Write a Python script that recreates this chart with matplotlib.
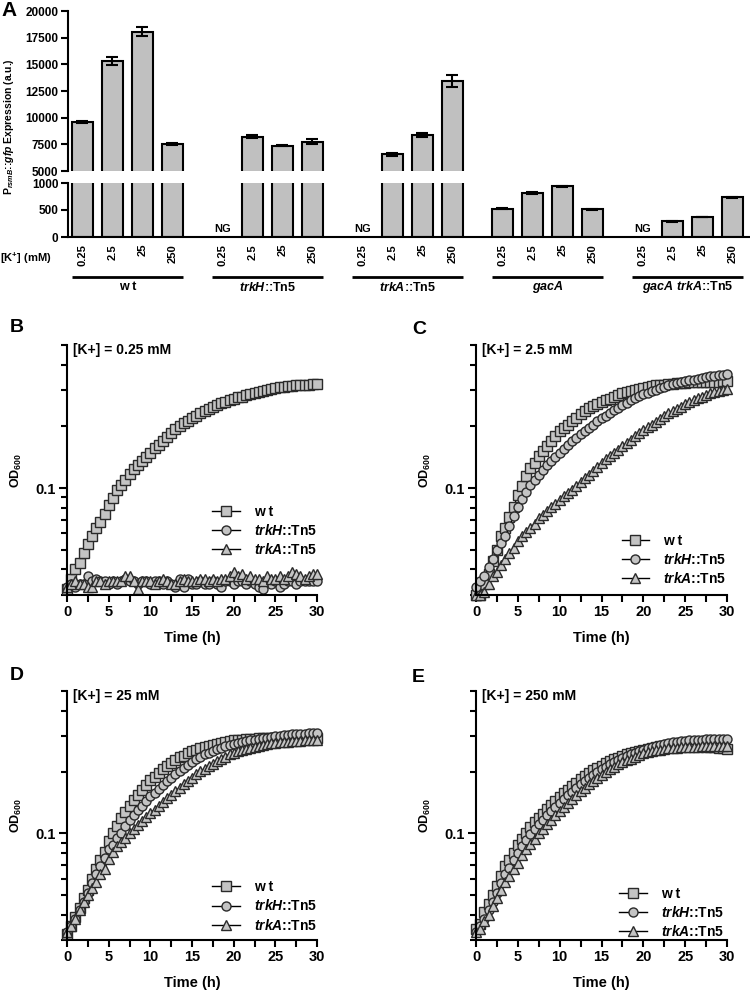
import numpy as np
import matplotlib
matplotlib.use("Agg")
import matplotlib.pyplot as plt
from matplotlib.ticker import NullFormatter
import matplotlib.transforms as mtransforms

plt.rcParams['font.family'] = ['Liberation Sans', 'DejaVu Sans']
plt.rcParams['font.weight'] = 'bold'
plt.rcParams['axes.labelweight'] = 'bold'
plt.rcParams['mathtext.fontset'] = 'custom'
plt.rcParams['mathtext.rm'] = 'Liberation Sans:bold'
plt.rcParams['mathtext.it'] = 'Liberation Sans:italic:bold'
plt.rcParams['mathtext.bf'] = 'Liberation Sans:bold'
plt.rcParams['axes.linewidth'] = 1.5

# ===== Panel A data =====
strains = ["w t", r"$trkH$::Tn5", r"$trkA$::Tn5", r"$gacA$", r"$gacA$ $trkA$::Tn5"]
k_labels = ["0.25", "2.5", "25", "250"]
expr = [
    [9560, 15300, 18050, 7530],
    [np.nan, 8220, 7380, 7750],
    [np.nan, 6570, 8370, 13470],
    [525, 815, 940, 515],
    [np.nan, 290, 370, 733],
]
expr_err = [
    [100, 400, 420, 120],
    [0, 150, 80, 250],
    [0, 120, 180, 550],
    [5, 15, 8, 8],
    [0, 5, 5, 15],
]

# ===== Growth curves (OD600), every 0.5 h =====
t = np.arange(0, 30.5, 0.5)

wt_B = [0.032, 0.036, 0.040, 0.043, 0.048, 0.053, 0.058, 0.064, 0.068, 0.075,
        0.083, 0.089, 0.098, 0.104, 0.110, 0.117, 0.124, 0.130, 0.136, 0.142,
        0.148, 0.157, 0.162, 0.170, 0.178, 0.186, 0.194, 0.200, 0.208, 0.213,
        0.220, 0.226, 0.233, 0.238, 0.244, 0.250, 0.255, 0.260, 0.264, 0.269,
        0.273, 0.277, 0.280, 0.285, 0.289, 0.292, 0.295, 0.299, 0.302, 0.306,
        0.309, 0.310, 0.312, 0.314, 0.316, 0.318, 0.320, 0.320, 0.320, 0.321,
        0.321]
trkH_B = [0.033, 0.034, 0.033, 0.034, 0.034, 0.037, 0.035, 0.036, 0.035, 0.035,
          0.034, 0.035, 0.034, 0.035, 0.036, 0.035, 0.035, 0.034, 0.035, 0.035,
          0.034, 0.035, 0.035, 0.034, 0.035, 0.034, 0.033, 0.036, 0.033, 0.036,
          0.034, 0.034, 0.035, 0.034, 0.034, 0.035, 0.034, 0.033, 0.035, 0.035,
          0.034, 0.035, 0.035, 0.034, 0.035, 0.034, 0.033, 0.032, 0.035, 0.034,
          0.035, 0.033, 0.034, 0.035, 0.035, 0.034, 0.035, 0.035, 0.035, 0.035,
          0.035]
trkA_B = [0.033, 0.034, 0.035, 0.034, 0.034, 0.033, 0.033, 0.035, 0.035, 0.034,
          0.035, 0.035, 0.035, 0.035, 0.037, 0.037, 0.035, 0.032, 0.035, 0.035,
          0.035, 0.034, 0.035, 0.036, 0.035, 0.034, 0.034, 0.035, 0.036, 0.035,
          0.035, 0.035, 0.036, 0.036, 0.035, 0.036, 0.035, 0.036, 0.036, 0.037,
          0.039, 0.037, 0.038, 0.036, 0.037, 0.036, 0.036, 0.035, 0.037, 0.036,
          0.036, 0.037, 0.036, 0.037, 0.039, 0.038, 0.037, 0.036, 0.037, 0.038,
          0.038]

wt_C = [0.030, 0.030, 0.034, 0.038, 0.044, 0.050, 0.058, 0.064, 0.072, 0.081,
        0.092, 0.102, 0.115, 0.125, 0.133, 0.143, 0.151, 0.160, 0.169, 0.179,
        0.190, 0.197, 0.204, 0.212, 0.220, 0.229, 0.238, 0.245, 0.251, 0.257,
        0.263, 0.268, 0.273, 0.279, 0.284, 0.290, 0.295, 0.299, 0.303, 0.306,
        0.309, 0.312, 0.315, 0.317, 0.318, 0.320, 0.321, 0.323, 0.325, 0.326,
        0.327, 0.328, 0.330, 0.330, 0.331, 0.331, 0.331, 0.331, 0.331, 0.332,
        0.333]
trkH_C = [0.033, 0.035, 0.037, 0.041, 0.045, 0.050, 0.054, 0.058, 0.065, 0.073,
          0.081, 0.088, 0.096, 0.104, 0.110, 0.116, 0.123, 0.129, 0.135, 0.141,
          0.148, 0.156, 0.163, 0.169, 0.176, 0.183, 0.190, 0.197, 0.204, 0.212,
          0.220, 0.226, 0.233, 0.240, 0.247, 0.254, 0.261, 0.268, 0.276, 0.281,
          0.287, 0.292, 0.298, 0.303, 0.309, 0.313, 0.318, 0.322, 0.327, 0.330,
          0.333, 0.336, 0.339, 0.342, 0.346, 0.349, 0.353, 0.354, 0.355, 0.357,
          0.360]
trkA_C = [0.030, 0.030, 0.031, 0.034, 0.037, 0.039, 0.042, 0.045, 0.048, 0.051,
          0.055, 0.058, 0.061, 0.064, 0.067, 0.071, 0.074, 0.077, 0.081, 0.084,
          0.087, 0.091, 0.095, 0.098, 0.102, 0.107, 0.112, 0.116, 0.121, 0.127,
          0.133, 0.138, 0.143, 0.148, 0.154, 0.160, 0.166, 0.172, 0.179, 0.185,
          0.192, 0.198, 0.204, 0.211, 0.218, 0.225, 0.232, 0.238, 0.244, 0.250,
          0.256, 0.262, 0.269, 0.274, 0.279, 0.284, 0.290, 0.294, 0.298, 0.302,
          0.306]

wt_D = [0.032, 0.035, 0.039, 0.043, 0.048, 0.053, 0.060, 0.067, 0.074, 0.081,
        0.092, 0.100, 0.109, 0.119, 0.128, 0.137, 0.146, 0.154, 0.164, 0.173,
        0.183, 0.190, 0.198, 0.206, 0.214, 0.222, 0.230, 0.236, 0.241, 0.247,
        0.253, 0.258, 0.262, 0.266, 0.270, 0.273, 0.276, 0.279, 0.281, 0.284,
        0.286, 0.288, 0.289, 0.290, 0.291, 0.292, 0.293, 0.294, 0.294, 0.294,
        0.294, 0.294, 0.294, 0.294, 0.294, 0.294, 0.294, 0.294, 0.294, 0.294,
        0.294]
trkH_D = [0.033, 0.035, 0.038, 0.042, 0.046, 0.051, 0.057, 0.063, 0.069, 0.076,
          0.084, 0.088, 0.095, 0.101, 0.109, 0.116, 0.123, 0.130, 0.137, 0.144,
          0.152, 0.158, 0.165, 0.173, 0.180, 0.188, 0.195, 0.203, 0.210, 0.217,
          0.224, 0.231, 0.238, 0.244, 0.249, 0.255, 0.260, 0.264, 0.268, 0.272,
          0.276, 0.279, 0.281, 0.284, 0.287, 0.289, 0.291, 0.293, 0.295, 0.298,
          0.300, 0.302, 0.303, 0.305, 0.306, 0.307, 0.308, 0.309, 0.310, 0.310,
          0.311]
trkA_D = [0.033, 0.035, 0.038, 0.042, 0.046, 0.050, 0.054, 0.058, 0.063, 0.067,
          0.075, 0.081, 0.087, 0.091, 0.095, 0.100, 0.105, 0.110, 0.115, 0.120,
          0.126, 0.131, 0.137, 0.143, 0.149, 0.155, 0.161, 0.168, 0.175, 0.181,
          0.187, 0.195, 0.202, 0.208, 0.214, 0.220, 0.226, 0.232, 0.238, 0.244,
          0.249, 0.253, 0.256, 0.260, 0.263, 0.267, 0.270, 0.273, 0.275, 0.277,
          0.278, 0.280, 0.281, 0.282, 0.283, 0.284, 0.285, 0.286, 0.287, 0.288,
          0.289]

wt_E = [0.034, 0.036, 0.041, 0.045, 0.050, 0.055, 0.062, 0.069, 0.074, 0.080,
        0.088, 0.094, 0.101, 0.107, 0.114, 0.119, 0.125, 0.132, 0.138, 0.145,
        0.151, 0.158, 0.164, 0.171, 0.177, 0.184, 0.191, 0.197, 0.204, 0.210,
        0.215, 0.221, 0.226, 0.231, 0.235, 0.240, 0.244, 0.248, 0.251, 0.255,
        0.258, 0.261, 0.263, 0.266, 0.268, 0.270, 0.271, 0.272, 0.273, 0.273,
        0.273, 0.272, 0.271, 0.270, 0.268, 0.267, 0.266, 0.265, 0.264, 0.262,
        0.260]
trkH_E = [0.033, 0.035, 0.038, 0.042, 0.046, 0.051, 0.057, 0.063, 0.068, 0.074,
          0.080, 0.087, 0.093, 0.099, 0.105, 0.111, 0.117, 0.123, 0.129, 0.135,
          0.141, 0.148, 0.154, 0.160, 0.167, 0.174, 0.181, 0.187, 0.193, 0.200,
          0.206, 0.212, 0.218, 0.224, 0.229, 0.234, 0.239, 0.244, 0.249, 0.254,
          0.258, 0.262, 0.266, 0.270, 0.273, 0.276, 0.278, 0.280, 0.282, 0.284,
          0.285, 0.286, 0.287, 0.288, 0.289, 0.290, 0.290, 0.291, 0.291, 0.291,
          0.292]
trkA_E = [0.033, 0.034, 0.037, 0.040, 0.044, 0.048, 0.053, 0.058, 0.062, 0.067,
          0.072, 0.078, 0.084, 0.089, 0.094, 0.100, 0.105, 0.111, 0.117, 0.123,
          0.129, 0.135, 0.141, 0.148, 0.154, 0.161, 0.167, 0.174, 0.181, 0.187,
          0.193, 0.200, 0.206, 0.212, 0.218, 0.223, 0.228, 0.233, 0.238, 0.243,
          0.247, 0.250, 0.253, 0.256, 0.258, 0.260, 0.262, 0.263, 0.264, 0.265,
          0.265, 0.266, 0.266, 0.267, 0.268, 0.268, 0.268, 0.268, 0.268, 0.268,
          0.268]
time_ticks = [0, 5, 10, 15, 20, 25, 30]

W, H = 750, 991
fig = plt.figure(figsize=(W / 100, H / 100), dpi=100)
fig.patch.set_facecolor('white')


def px_rect(x0, y0, x1, y1):
    return [x0 / W, 1 - y1 / H, (x1 - x0) / W, (y1 - y0) / H]


BAR_GREY = '#c0c0c0'

# ===== Panel A: broken-axis bars =====
ax_hi = fig.add_axes(px_rect(68, 11, 750, 171))
ax_lo = fig.add_axes(px_rect(68, 183, 750, 237))
group_step = 4 + 2 / 3
xmin, xmax = -0.483, 22.25

all_pos = []
for g in range(len(strains)):
    pos = g * group_step + np.arange(4)
    all_pos.extend(pos)
    vals = np.array(expr[g], dtype=float)
    errs = np.array(expr_err[g], dtype=float)
    ok = ~np.isnan(vals)
    for ax in (ax_hi, ax_lo):
        ax.bar(pos[ok], vals[ok], width=0.7, color=BAR_GREY, edgecolor='black', linewidth=1.5)
        ax.errorbar(pos[ok], vals[ok], yerr=errs[ok], fmt='none', ecolor='black',
                    elinewidth=1.5, capsize=4, capthick=1.5)
    for p in pos[~ok]:
        ax_lo.text(p, 60, "NG", ha='center', va='bottom', fontsize=8)
    # group underline and name
    trans = mtransforms.blended_transform_factory(ax_lo.transData, ax_lo.transAxes)
    ax_lo.plot([pos[0] - 0.35, pos[-1] + 0.35], [-0.74, -0.74], color='black', lw=2,
               transform=trans, clip_on=False, solid_capstyle='butt')
    ax_lo.text((pos[0] + pos[-1]) / 2, -0.93, strains[g], transform=trans,
               ha='center', va='center', fontsize=9)

for ax in (ax_hi, ax_lo):
    ax.set_xlim(xmin, xmax)
    ax.spines['top'].set_visible(False)
    ax.spines['right'].set_visible(False)
    ax.tick_params(axis='y', direction='out', length=5, width=1.5, pad=2)
ax_hi.spines['bottom'].set_visible(False)
ax_hi.set_ylim(5000, 20000)
hi_ticks = np.arange(5000, 20001, 2500)
ax_hi.set_yticks(hi_ticks, [str(v) for v in hi_ticks], fontsize=8.5, fontweight='bold')
ax_hi.set_xticks([])
ax_lo.set_ylim(0, 1000)
ax_lo.set_yticks([0, 500, 1000], ["0", "500", "1000"], fontsize=8.5, fontweight='bold')
ax_lo.set_xticks(all_pos, k_labels * len(strains), rotation=90, fontsize=8, fontweight='bold')
ax_lo.tick_params(axis='x', length=0, pad=5)

fig.text(0 / W, 1 - 258 / H, r"[K$^{+}$] (mM)", ha='left', va='center', fontsize=8)
fig.text(9 / W, 1 - 127 / H, r"P$_{rsmB}$::$gfp$ Expression (a.u.)", rotation=90,
         ha='center', va='center', fontsize=7.5)
fig.text(1 / W, 1 - 10 / H, "A", ha='left', va='center', fontsize=15)

# ===== Panels B-E: growth curves =====
minor_y = [0.03, 0.04, 0.05, 0.06, 0.07, 0.08, 0.09, 0.2, 0.3, 0.4, 0.5]
MK = dict(ms=6.5, mfc='#c4c4c4', mec='#2a2a2a', mew=1.0, color='black', lw=1, clip_on=False)


def growth_panel(rect, letter, letter_px, kconc, wt, trkh, trka, leg_xy):
    ax = fig.add_axes(px_rect(*rect))
    ax.plot(t, wt, marker='s', label="w t", **MK)
    ax.plot(t, trkh, marker='o', label=r"$trkH$::Tn5", **MK)
    ax.plot(t, trka, marker='^', label=r"$trkA$::Tn5", **MK)
    ax.set_yscale('log')
    ax.set_ylim(0.03, 0.5)
    ax.set_xlim(0, 30)
    ax.set_yticks([0.1], ["0.1"], fontsize=10.5, fontweight='bold')
    ax.set_yticks(minor_y, minor=True)
    ax.yaxis.set_minor_formatter(NullFormatter())
    ax.set_xticks(time_ticks, [str(v) for v in time_ticks], fontsize=10.5, fontweight='bold')
    ax.set_xticks(np.arange(2.5, 30, 5), minor=True)
    ax.tick_params(axis='both', which='major', direction='out', width=1.5, pad=2)
    ax.tick_params(axis='y', which='major', length=6)
    ax.tick_params(axis='x', which='major', length=5)
    ax.tick_params(axis='both', which='minor', direction='out', width=1.5, length=4)
    ax.tick_params(axis='x', which='minor', length=5)
    ax.spines['top'].set_visible(False)
    ax.spines['right'].set_visible(False)
    ax.set_xlabel("Time (h)", fontsize=10.5, labelpad=9)
    ax.set_ylabel(r"OD$_{600}$", fontsize=9)
    ax.yaxis.set_label_coords(-0.17, 0.5)
    ax.text(0.024, 0.98, "[K+] = %s mM" % kconc, transform=ax.transAxes,
            ha='left', va='center', fontsize=10)
    ax.legend(loc='upper left', bbox_to_anchor=leg_xy, frameon=False, fontsize=10,
              handlelength=2.0, handletextpad=1.0, labelspacing=0.3,
              borderaxespad=0, borderpad=0, markerscale=1.0)
    fig.text(letter_px[0] / W, 1 - letter_px[1] / H, letter, ha='left', va='center', fontsize=14)
    return ax


growth_panel((67, 345, 317, 595), "B", (10, 328), "0.25", wt_B, trkH_B, trkA_B, (0.58, 0.36))
growth_panel((476, 345, 727, 595), "C", (412, 330), "2.5", wt_C, trkH_C, trkA_C, (0.58, 0.245))
growth_panel((67, 691, 317, 940), "D", (10, 675), "25", wt_D, trkH_D, trkA_D, (0.58, 0.24))
growth_panel((476, 691, 727, 940), "E", (412, 677), "250", wt_E, trkH_E, trkA_E, (0.57, 0.213))

fig.savefig("out.png", dpi=100, facecolor='white')
